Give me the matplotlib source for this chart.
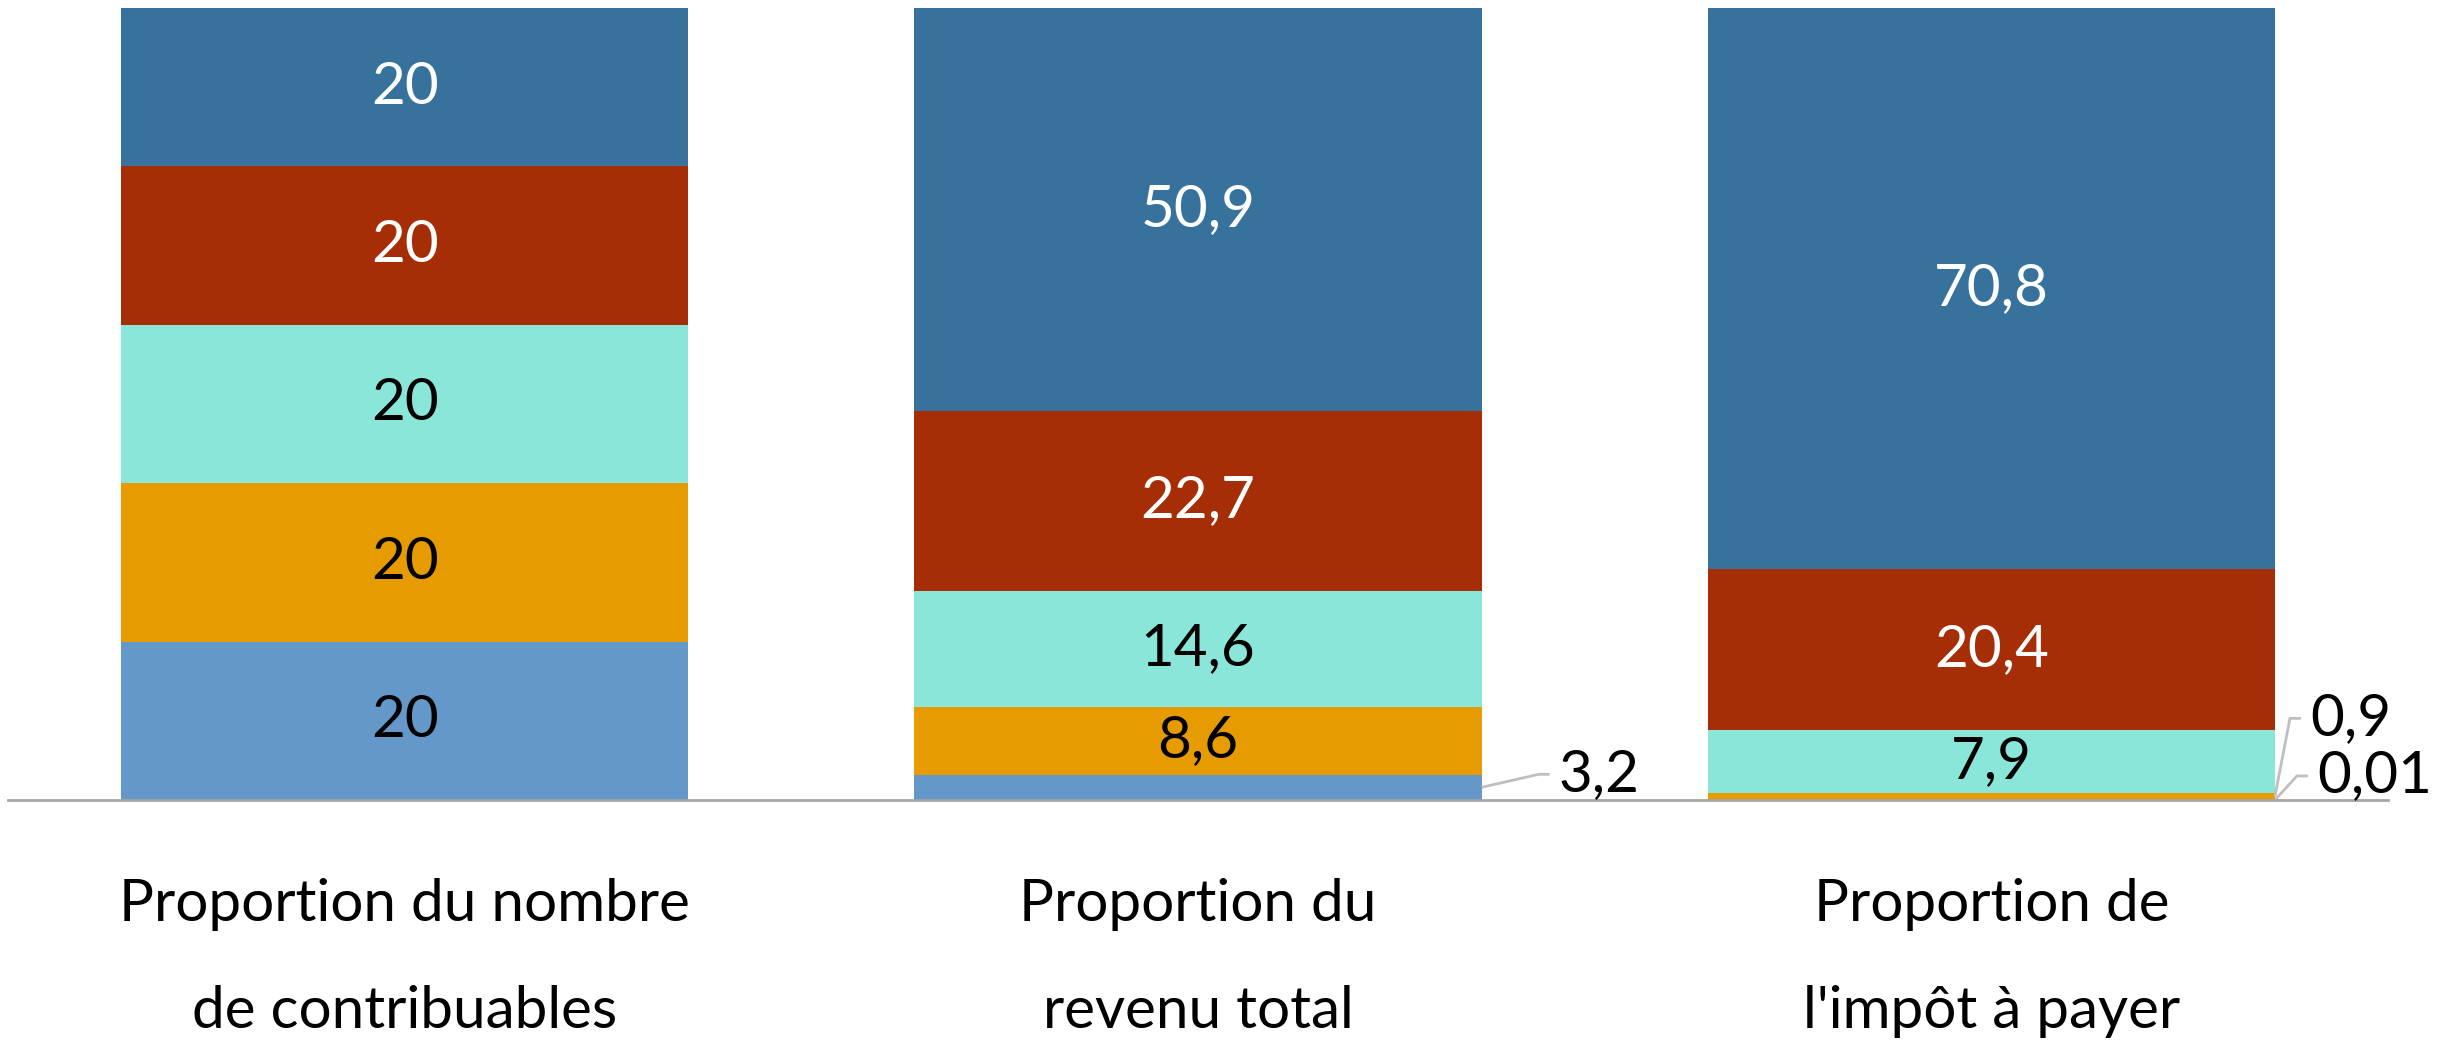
import matplotlib.pyplot as plt

plt.rcParams['font.family'] = ['Lato', 'DejaVu Sans']

categories = ['Proportion du nombre\nde contribuables',
              'Proportion du\nrevenu total',
              "Proportion de\nl'impôt à payer"]
# segments from bottom to top
seg_colors = ['#6398C8', '#E69B00', '#8BE6DA', '#A62E06', '#36729C']
txt_colors = ['black', 'black', 'black', 'white', 'white']
contrib = [20, 20, 20, 20, 20]
revenu = [3.2, 8.6, 14.6, 22.7, 50.9]
impot = [0.01, 0.9, 7.9, 20.4, 70.8]
labels_contrib = ['20', '20', '20', '20', '20']
labels_revenu = ['3,2', '8,6', '14,6', '22,7', '50,9']
labels_impot = ['0,01', '0,9', '7,9', '20,4', '70,8']

series = [contrib, revenu, impot]
series_labels = [labels_contrib, labels_revenu, labels_impot]

fig = plt.figure(figsize=(24.56, 10.41), dpi=100)
ax = fig.add_axes([8 / 2456, 1 - 800 / 1041, 2380 / 2456, 792 / 1041])

w = 0.715
px_x = 3 / 2380   # data units per pixel
px_y = 100 / 792

for i, (vals, labs) in enumerate(zip(series, series_labels)):
    bottom = 0
    for j, v in enumerate(vals):
        ax.bar(i, v, w, bottom=bottom, color=seg_colors[j], linewidth=0)
        mid = bottom + v / 2
        if v >= 5:
            ax.text(i, mid, labs[j], ha='center', va='center',
                    fontsize=42, color=txt_colors[j])
        else:
            # leader line for small segments
            x0 = i + w / 2
            if v < 0.1:
                dx, dy = 22, 24
            elif v < 2:
                dx, dy = 15, 78
            else:
                dx, dy = 57, 13
            x1 = x0 + dx * px_x
            y1 = mid + dy * px_y
            x2 = x1 + 11 * px_x
            ax.plot([x0, x1, x2], [mid, y1, y1], color='#BFBFBF', lw=2,
                    solid_capstyle='butt', clip_on=False)
            ax.text(x2 + 9 * px_x, y1, labs[j], ha='left', va='center',
                    fontsize=42, color='black')
        bottom += v

ax.set_xlim(-0.5, 2.5)
ax.set_ylim(0, 100)
ax.set_yticks([])
ax.set_xticks(range(3))
ax.set_xticklabels(categories, fontsize=42, linespacing=2.27)
ax.tick_params(axis='x', length=0, pad=56)
for s in ['top', 'right', 'left']:
    ax.spines[s].set_visible(False)
ax.spines['bottom'].set_color('#A6A6A6')
ax.spines['bottom'].set_linewidth(2)

fig.savefig('out.png', dpi=100)
